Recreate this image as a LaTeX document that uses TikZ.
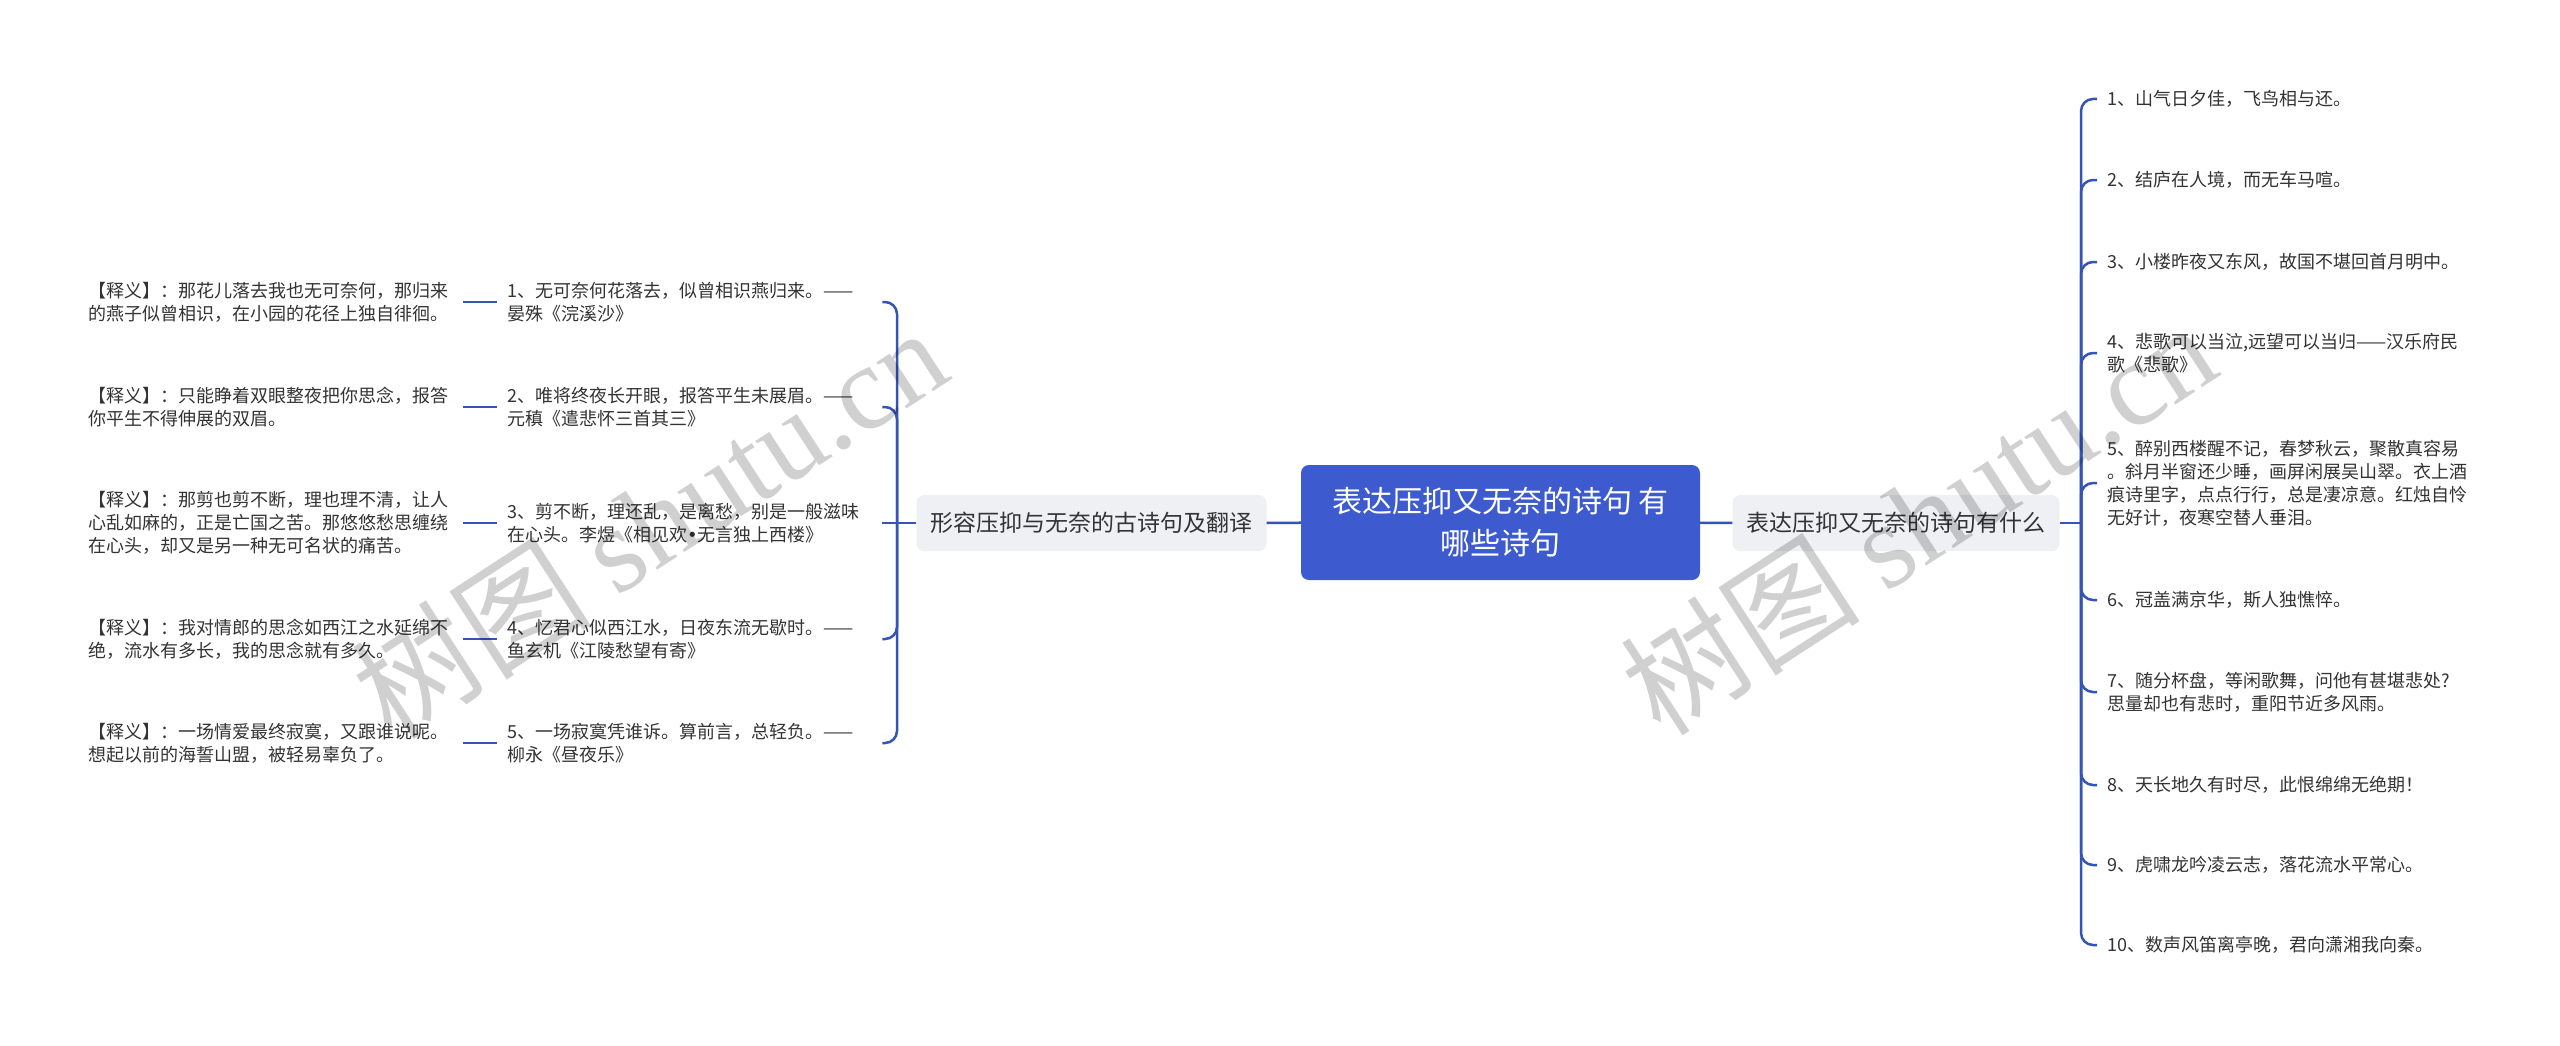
\documentclass[tikz,border=0pt]{standalone}
\usepackage{fontspec}
\setmainfont{Noto Sans CJK SC}
\newfontfamily\wmfont{Liberation Serif}
\newfontfamily\dotfont{DejaVu Sans}
\begin{document}
\begin{tikzpicture}[x=1pt, y=-1pt]
  % Colors
  \definecolor{linecol}{RGB}{52,84,184}
  \definecolor{rootcol}{RGB}{61,91,206}
  \definecolor{topiccol}{RGB}{238,240,244}
  \definecolor{textcol}{RGB}{51,51,51}
  \definecolor{wmcol}{RGB}{208,208,208}
  %
  \tikzset{
    rootbox/.style={fill=rootcol, rounded corners=8pt, minimum width=399pt, minimum height=115pt,
                    inner sep=0pt, align=center, text=white, font=\fontsize{30}{42}\selectfont},
    topicbox/.style={fill=topiccol, rounded corners=8pt, minimum height=56pt, inner xsep=14pt,
                     text=textcol, font=\fontsize{23}{28}\selectfont},
    leaf/.style={anchor=west, inner xsep=10pt, inner ysep=0pt, align=left, text=textcol,
                 font=\fontsize{18}{23}\selectfont},
    link/.style={draw=linecol, line width=2.5pt, rounded corners=12pt},
    wmark/.style={text=wmcol, rotate=33, font=\fontsize{120}{120}\selectfont},
  }
  %
  \fill[white] (0,0) rectangle (2560,1046);
  \useasboundingbox (0,0) rectangle (2560,1046);
  %
  %%% CENTRE %%%
  \node[rootbox] (root) at (1500.5, 522.5) {表达压抑又无奈的诗句 有\\哪些诗句};
  \node[topicbox] (ltopic) at (1091.5, 523) {形容压抑与无奈的古诗句及翻译};
  \node[topicbox] (rtopic) at (1896, 523) {表达压抑又无奈的诗句有什么};
  \draw[link] (ltopic) -- (root);
  \draw[link] (root) -- (rtopic);
  %
  %%% LEFT SIDE %%%
  \coordinate (lj) at (897, 523);
  \draw[link] (ltopic) -- (lj);
  %
  % poems
  \foreach \n/\y/\txt in {
    1/302/{1、无可奈何花落去，似曾相识燕归来。——\\晏殊《浣溪沙》},
    2/407/{2、唯将终夜长开眼，报答平生未展眉。——\\元稹《遣悲怀三首其三》},
    3/523/{3、剪不断，理还乱，是离愁，别是一般滋味\\在心头。李煜《相见欢{\dotfont •}无言独上西楼》},
    4/639/{4、忆君心似西江水，日夜东流无歇时。——\\鱼玄机《江陵愁望有寄》},
    5/743/{5、一场寂寞凭谁诉。算前言，总轻负。——\\柳永《昼夜乐》}%
  } {
    \node[leaf, text width=365pt] (p\n) at (497, \y) {\txt};
  }
  %
  % translations
  \foreach \n/\y/\txt in {
    1/302/{【释义】：那花儿落去我也无可奈何，那归来\\的燕子似曾相识，在小园的花径上独自徘徊。},
    2/407/{【释义】：只能睁着双眼整夜把你思念，报答\\你平生不得伸展的双眉。},
    3/523/{【释义】：那剪也剪不断，理也理不清，让人\\心乱如麻的，正是亡国之苦。那悠悠愁思缠绕\\在心头，却又是另一种无可名状的痛苦。},
    4/639/{【释义】：我对情郎的思念如西江之水延绵不\\绝，流水有多长，我的思念就有多久。},
    5/743/{【释义】：一场情爱最终寂寞，又跟谁说呢。\\想起以前的海誓山盟，被轻易辜负了。}%
  } {
    \node[leaf, text width=365pt] (e\n) at (78, \y) {\txt};
    \draw[link] (e\n) -- (p\n);
  }
  %
  \foreach \n in {1,2,4,5} {
    \draw[link] (lj) |- (p\n);
  }
  \draw[link] (lj) -- (p3);
  %
  %%% RIGHT SIDE %%%
  \coordinate (rj) at (2081, 523);
  \draw[link] (rtopic) -- (rj);
  %
  \foreach \n/\y/\txt in {
    1/99/{1、山气日夕佳，飞鸟相与还。},
    2/180/{2、结庐在人境，而无车马喧。},
    3/262/{3、小楼昨夜又东风，故国不堪回首月明中。},
    4/353/{4、悲歌可以当泣,远望可以当归——汉乐府民\\歌《悲歌》},
    5/483/{5、醉别西楼醒不记，春梦秋云，聚散真容易\\。斜月半窗还少睡，画屏闲展吴山翠。衣上酒\\痕诗里字，点点行行，总是凄凉意。红烛自怜\\无好计，夜寒空替人垂泪。},
    6/600/{6、冠盖满京华，斯人独憔悴。},
    7/692/{7、随分杯盘，等闲歌舞，问他有甚堪悲处?\\思量却也有悲时，重阳节近多风雨。},
    8/785/{8、天长地久有时尽，此恨绵绵无绝期！},
    9/865/{9、虎啸龙吟凌云志，落花流水平常心。},
    10/945/{10、数声风笛离亭晚，君向潇湘我向秦。}%
  } {
    \node[leaf] (r\n) at (2097, \y) {\txt};
    \draw[link] (rj) |- (r\n);
  }
  %
  % watermark
  \begin{scope}[blend mode=multiply]
    \node[wmark] (wm1) at (649, 522) {树图 {\wmfont shutu.cn}};
    \node[wmark] (wm2) at (1918, 518) {树图 {\wmfont shutu.cn}};
  \end{scope}
\end{tikzpicture}
\end{document}
